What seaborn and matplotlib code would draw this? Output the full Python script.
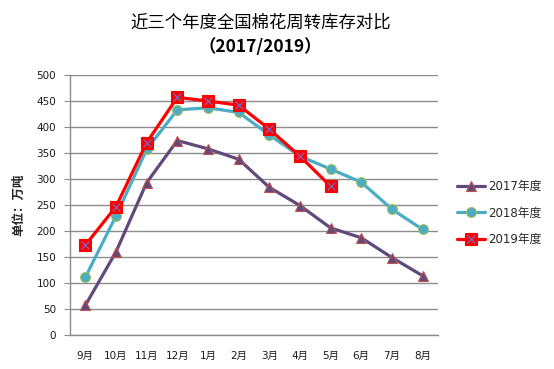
import matplotlib
matplotlib.use('Agg')
import matplotlib.pyplot as plt
from matplotlib.lines import Line2D
import seaborn as sns
import pandas as pd
import numpy as np

# Data
months = ['9月', '10月', '11月', '12月', '1月', '2月', '3月', '4月', '5月', '6月', '7月', '8月']
stock_2017 = [57, 160, 293, 374, 358, 338, 284, 249, 206, 187, 149, 114]
stock_2018 = [111, 229, 357, 433, 437, 428, 385, 344, 319, 294, 242, 203]
stock_2019 = [173, 247, 370, 457, 450, 442, 396, 344, 286, np.nan, np.nan, np.nan]

df = pd.DataFrame({'month': months, '2017年度': stock_2017,
                   '2018年度': stock_2018, '2019年度': stock_2019})
long = df.melt(id_vars='month', var_name='year', value_name='stock')

sns.set_style('white')
plt.rcParams['font.family'] = ['DejaVu Sans', 'Noto Sans CJK SC']

fig = plt.figure(figsize=(5.54, 3.69), dpi=100)
ax = fig.add_axes([0.1264, 0.0921, 0.664, 0.7046])

styles = {
    '2017年度': dict(color='#604A7B', marker='^', mfc='#604A7B', mec='#C0504D', ms=7.5),
    '2018年度': dict(color='#4BACC6', marker='o', mfc='#4BACC6', mec='#9BBB59', ms=7),
    '2019年度': dict(color='#FF0000', marker='s', mfc='#FF0000', mec='#FF0000', ms=8.5),
}

for year, st in styles.items():
    sub = long[long['year'] == year]
    sns.lineplot(data=sub, x='month', y='stock', ax=ax, color=st['color'], lw=2.3,
                 marker=st['marker'], markersize=st['ms'],
                 markerfacecolor=st['mfc'], markeredgecolor=st['mec'],
                 markeredgewidth=0.8, sort=False, zorder=3)

# blue cross on the 2019 squares
sub19 = long[long['year'] == '2019年度'].dropna()
ax.scatter(sub19['month'], sub19['stock'], marker='x', s=30, color='#6F6FD8',
           linewidths=0.8, zorder=4)

ax.set_ylim(0, 500)
ax.set_xlim(-0.5, len(months) - 0.5)
ax.set_yticks(range(0, 501, 50))
ax.yaxis.grid(True, color='#8C8C8C', lw=1.0)
ax.xaxis.grid(False)
for s in ['top', 'right']:
    ax.spines[s].set_visible(False)
for s in ['left', 'bottom']:
    ax.spines[s].set_color('#8C8C8C')
    ax.spines[s].set_linewidth(1.0)
ax.tick_params(axis='y', left=True, length=4, color='#8C8C8C', labelsize=7.5, pad=6,
               labelcolor='#1A1A1A')
ax.tick_params(axis='x', bottom=False, labelsize=7.5, pad=8, labelcolor='#1A1A1A')
ax.set_xlabel('')
ax.set_ylabel('单位：万吨', fontsize=9, fontweight='bold', labelpad=8,
              family=['Noto Sans CJK SC'])

handles = []
for year, st in styles.items():
    h = Line2D([], [], color=st['color'], lw=2.3, marker=st['marker'], markersize=st['ms'],
               markerfacecolor=st['mfc'], markeredgecolor=st['mec'], markeredgewidth=0.8)
    if year == '2019年度':
        hx = Line2D([], [], ls='none', marker='x', markersize=5.5, color='#6F6FD8', markeredgewidth=0.8)
        h = (h, hx)
    handles.append(h)
fig.legend(handles, list(styles.keys()), loc='center left', bbox_to_anchor=(0.806, 0.423),
           frameon=False, fontsize=8.5, handlelength=2.4, handletextpad=0.2, labelspacing=1.15)

fig.text(0.47, 0.94, '近三个年度全国棉花周转库存对比', ha='center', va='center', fontsize=12.5,
         family=['Noto Sans CJK SC'], fontweight='medium', color='black')
fig.text(0.47, 0.872, '（2017/2019）', ha='center', va='center', fontsize=12.5,
         family=['Noto Sans CJK SC'], fontweight='bold', color='black')

fig.savefig('out.png', dpi=100)
